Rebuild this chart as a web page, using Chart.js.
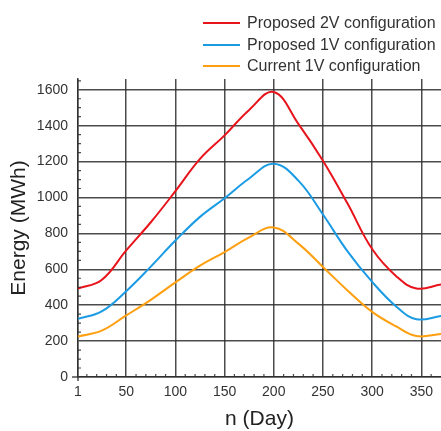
<!DOCTYPE html>
<html lang="en">
<head>
    <meta charset="UTF-8">
    <title>Energy per day</title>
    <script src="https://cdn.jsdelivr.net/npm/chart.js"></script>
    <style>
        body {
            margin: 0;
            padding: 0;
            background: #fff;
            font-family: "Liberation Sans", Arial, sans-serif;
        }
        #wrap {
            position: relative;
            width: 441px;
            height: 431px;
            overflow: hidden;
        }
        canvas { position: absolute; left: 0; top: 0; }
        /* legend drawn as html, lines stacked on the right */
        .legend {
            position: absolute;
            left: 203px;
            top: 12px;
        }
        .legend .item {
            position: relative;
            height: 21.5px;
            line-height: 21.5px;
            font-size: 16px;
            color: #333;
            white-space: nowrap;
            padding-left: 44px;
        }
        .legend .item span {
            position: absolute;
            left: 0;
            top: 10px;
            width: 37px;
            height: 2px;
        }
    </style>
</head>
<body>
<div id="wrap">
    <canvas id="chart" width="441" height="431"></canvas>
    <div class="legend" id="legend"></div>
</div>

<script>
    // values (day -> MWh)
    const days = [1, 25, 50, 75, 100, 125, 150, 175, 200, 225, 250, 275, 300, 325, 345, 370];
    const proposed2V = [493, 540, 705, 862, 1035, 1215, 1346, 1488, 1588, 1410, 1205, 966, 713, 559, 493, 515];
    const proposed1V = [324, 365, 478, 615, 760, 892, 996, 1106, 1188, 1094, 905, 700, 530, 390, 322, 340];
    const current1V = [226, 258, 343, 430, 527, 620, 696, 778, 833, 743, 613, 482, 363, 280, 228, 240];

    const seriesNames = ['Proposed 2V configuration', 'Proposed 1V configuration', 'Current 1V configuration'];
    const seriesColors = ['#e8141c', '#1b9be3', '#ff9f10'];

    const xTicks = [1, 50, 100, 150, 200, 250, 300, 350];
    const yTicks = [0, 200, 400, 600, 800, 1000, 1200, 1400, 1600];
    const xMinor = [10, 20, 30, 40, 60, 70, 80, 90, 110, 120, 130, 140, 160, 170, 180, 190,
                    210, 220, 230, 240, 260, 270, 280, 290, 310, 320, 330, 340, 360];
    const yMinor = [50, 100, 150, 250, 300, 350, 450, 500, 550, 650, 700, 750, 850, 900, 950,
                    1050, 1100, 1150, 1250, 1300, 1350, 1450, 1500, 1550, 1650];

    const gridColor = 'rgba(45, 45, 45, 0.85)';
    const textColor = '#333';
    const fontFamily = '"Liberation Sans", Arial, sans-serif';

    function toPoints(xs, ys) {
        return xs.map((x, i) => ({ x: x, y: ys[i] }));
    }

    // html legend
    const legendEl = document.getElementById('legend');
    seriesNames.forEach((name, i) => {
        const row = document.createElement('div');
        row.className = 'item';
        row.innerHTML = '<span style="background:' + seriesColors[i] + '"></span>' + name;
        legendEl.appendChild(row);
    });

    // small inside ticks + axis overhang, placed with the chart scales
    const minorTicks = {
        id: 'minorTicks',
        afterDatasetsDraw(chart) {
            const ctx = chart.ctx;
            const xs = chart.scales.x;
            const ys = chart.scales.y;
            const area = chart.chartArea;
            ctx.save();
            ctx.strokeStyle = gridColor;
            ctx.lineWidth = 1.2;
            ctx.beginPath();
            xMinor.forEach(v => {
                const px = xs.getPixelForValue(v);
                ctx.moveTo(px, area.bottom);
                ctx.lineTo(px, area.bottom - 3);
            });
            yMinor.forEach(v => {
                const py = ys.getPixelForValue(v);
                if (py < area.top) return;
                ctx.moveTo(area.left, py);
                ctx.lineTo(area.left + 3, py);
            });
            ctx.stroke();
            ctx.lineWidth = 1.5;
            ctx.beginPath();
            ctx.moveTo(area.left - 6, area.bottom);
            ctx.lineTo(area.left, area.bottom);
            ctx.moveTo(area.left, area.bottom);
            ctx.lineTo(area.left, area.bottom + 4);
            ctx.stroke();
            ctx.restore();
        }
    };

    new Chart(document.getElementById('chart'), {
        type: 'line',
        data: {
            datasets: [
                { label: seriesNames[0], data: toPoints(days, proposed2V), borderColor: seriesColors[0] },
                { label: seriesNames[1], data: toPoints(days, proposed1V), borderColor: seriesColors[1] },
                { label: seriesNames[2], data: toPoints(days, current1V), borderColor: seriesColors[2] }
            ]
        },
        options: {
            responsive: false,
            animation: false,
            layout: { padding: { top: 79, left: 0, right: 0, bottom: 0 } },
            elements: {
                point: { radius: 0 },
                line: { borderWidth: 2, tension: 0.4, fill: false }
            },
            plugins: {
                legend: { display: false },
                tooltip: { enabled: false }
            },
            scales: {
                x: {
                    type: 'linear',
                    min: 1,
                    max: 370,
                    afterBuildTicks: s => { s.ticks = xTicks.map(v => ({ value: v })); },
                    afterFit: s => { s.height = 54; },
                    grid: { color: gridColor, lineWidth: 1.5, drawTicks: false },
                    border: { color: gridColor, width: 1.5 },
                    ticks: {
                        color: textColor,
                        padding: 7,
                        maxRotation: 0,
                        callback: v => String(v),
                        font: { family: fontFamily, size: 14 }
                    },
                    title: {
                        display: true,
                        text: 'n (Day)',
                        color: '#222',
                        padding: { top: 0, bottom: 1 },
                        font: { family: fontFamily, size: 21, lineHeight: 1 }
                    }
                },
                y: {
                    min: 0,
                    max: 1660,
                    afterBuildTicks: s => { s.ticks = yTicks.map(v => ({ value: v })); },
                    afterFit: s => { s.width = 78; },
                    grid: { color: gridColor, lineWidth: 1.5, drawTicks: false },
                    border: { color: gridColor, width: 1.5 },
                    ticks: {
                        color: textColor,
                        padding: 10,
                        callback: v => String(v),
                        font: { family: fontFamily, size: 14 }
                    },
                    title: {
                        display: true,
                        text: 'Energy (MWh)',
                        color: '#222',
                        padding: { top: 9, bottom: 0 },
                        font: { family: fontFamily, size: 21, lineHeight: 1 }
                    }
                }
            }
        },
        plugins: [minorTicks]
    });
</script>
</body>
</html>
